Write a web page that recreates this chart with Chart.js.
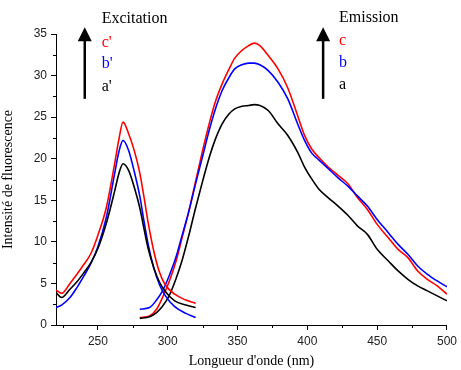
<!DOCTYPE html>
<html>
<head>
<meta charset="utf-8">
<script src="https://cdn.jsdelivr.net/npm/chart.js@4/dist/chart.umd.min.js"></script>
<style>
  html, body { margin: 0; padding: 0; background: #fff; }
  #wrap { width: 461px; height: 370px; }
</style>
</head>
<body>
<div id="wrap"><canvas id="chart" width="461" height="370"></canvas></div>
<script>
// Excitation spectra (a', b', c')
const exWave = [220, 224, 230, 235, 240, 245, 250, 256, 262, 265, 268, 272, 276, 280, 283, 286, 290, 294, 298, 305, 313, 320];
const exC = [4.2, 3.8, 5.0, 6.1, 7.3, 8.6, 10.8, 14.1, 19.4, 22.3, 24.4, 23.0, 21.0, 18.3, 15.4, 12.3, 8.9, 6.4, 4.9, 3.7, 3.0, 2.6];
const exB = [2.1, 2.4, 3.3, 4.5, 5.9, 7.4, 9.4, 12.9, 18.2, 20.8, 22.2, 21.0, 18.5, 15.5, 12.5, 9.7, 6.9, 4.9, 3.6, 2.2, 1.4, 0.9];
const exA = [3.9, 3.3, 4.3, 5.2, 6.3, 7.5, 9.2, 12.2, 16.1, 18.2, 19.4, 18.6, 16.6, 14.1, 11.6, 9.2, 6.9, 5.2, 4.1, 2.9, 2.4, 2.1];

// Emission spectra (a, b, c)
const emWave = [280, 287, 292, 296, 301, 306, 310, 315, 320, 325, 330, 334, 339, 344, 348, 353, 358, 362, 366, 372, 379, 386, 393, 398, 403, 408, 415, 422, 429, 436, 443, 450, 458, 465, 472, 479, 486, 493, 500];
const emC = [0.9, 1.1, 1.9, 3.2, 5.2, 7.7, 10.3, 13.6, 17.3, 21.0, 24.4, 26.8, 29.0, 30.8, 32.1, 33.0, 33.6, 33.9, 33.6, 32.4, 30.8, 28.5, 25.2, 22.8, 21.2, 20.2, 19.0, 18.0, 17.0, 15.3, 13.9, 12.1, 10.5, 9.1, 8.1, 6.5, 5.5, 4.7, 3.7];
const emB = [1.9, 2.1, 3.0, 4.0, 5.9, 8.2, 10.6, 13.6, 17.0, 20.3, 23.6, 25.9, 28.2, 29.8, 30.8, 31.3, 31.5, 31.5, 31.3, 30.6, 29.2, 27.2, 24.2, 22.2, 20.7, 19.9, 18.8, 17.7, 16.7, 15.5, 14.3, 12.7, 11.1, 9.7, 8.5, 7.1, 6.1, 5.3, 4.6];
const emA = [0.8, 1.0, 1.5, 2.2, 3.5, 5.6, 7.6, 10.7, 14.1, 17.3, 20.3, 22.3, 24.2, 25.4, 26.0, 26.3, 26.4, 26.5, 26.4, 25.8, 24.2, 22.8, 20.8, 19.0, 17.6, 16.4, 15.3, 14.3, 13.2, 11.9, 10.9, 9.1, 7.7, 6.5, 5.5, 4.7, 4.1, 3.5, 2.9];

const xTicks = [250, 300, 350, 400, 450, 500];
const yTicks = [0, 5, 10, 15, 20, 25, 30, 35];

const pts = (xs, ys) => xs.map((x, i) => ({ x: x, y: ys[i] }));

function line(data, color) {
    return {
        data: data,
        borderColor: color,
        borderWidth: 1.6,
        pointRadius: 0,
        fill: false,
        cubicInterpolationMode: 'monotone'
    };
}

// minor ticks + arrows / labels
const decor = {
    id: 'decor',
    afterDraw(chart) {
        const ctx = chart.ctx;
        const xs = chart.scales.x, ys = chart.scales.y;
        const area = chart.chartArea;
        ctx.save();
        ctx.strokeStyle = '#000';
        ctx.lineWidth = 1;
        for (let v = 225; v <= 500; v += 50) {
            const px = Math.round(xs.getPixelForValue(v)) + 0.5;
            ctx.beginPath();
            ctx.moveTo(px, area.bottom);
            ctx.lineTo(px, area.bottom + 3);
            ctx.stroke();
        }
        for (let v = 2.5; v < 35; v += 5) {
            const py = Math.round(ys.getPixelForValue(v)) + 0.5;
            ctx.beginPath();
            ctx.moveTo(area.left, py);
            ctx.lineTo(area.left - 3, py);
            ctx.stroke();
        }

        function arrow(xv, y0, y1) {
            const px = xs.getPixelForValue(xv);
            const pb = ys.getPixelForValue(y0);
            const pt = ys.getPixelForValue(y1);
            ctx.fillStyle = '#000';
            ctx.lineWidth = 2.5;
            ctx.beginPath();
            ctx.moveTo(px, pb);
            ctx.lineTo(px, pt + 12);
            ctx.stroke();
            ctx.beginPath();
            ctx.moveTo(px, pt);
            ctx.lineTo(px - 7, pt + 14);
            ctx.lineTo(px + 7, pt + 14);
            ctx.closePath();
            ctx.fill();
        }
        function label(txt, xv, yv, color) {
            ctx.fillStyle = color;
            ctx.font = '16px "Liberation Serif", "Times New Roman", serif';
            ctx.textBaseline = 'middle';
            ctx.textAlign = 'left';
            ctx.fillText(txt, xs.getPixelForValue(xv), ys.getPixelForValue(yv));
        }

        arrow(240.6, 27.2, 35.8);
        label('Excitation', 252.7, 36.8, '#000');
        label("c'", 252.7, 34.0, '#ff0000');
        label("b'", 252.7, 31.4, '#0000ff');
        label("a'", 252.7, 28.7, '#000');

        arrow(411.3, 27.2, 35.8);
        label('Emission', 422.7, 37.0, '#000');
        label('c', 422.7, 34.2, '#ff0000');
        label('b', 422.7, 31.5, '#0000ff');
        label('a', 422.7, 28.9, '#000');
        ctx.restore();
    }
};

new Chart(document.getElementById('chart'), {
    type: 'line',
    data: {
        datasets: [
            line(pts(exWave, exA), '#000000'),
            line(pts(exWave, exB), '#0000ff'),
            line(pts(exWave, exC), '#ff0000'),
            line(pts(emWave, emA), '#000000'),
            line(pts(emWave, emB), '#0000ff'),
            line(pts(emWave, emC), '#ff0000')
        ]
    },
    options: {
        responsive: false,
        animation: false,
        layout: { padding: { top: 34, right: 10, left: 0, bottom: 0 } },
        plugins: { legend: { display: false }, tooltip: { enabled: false } },
        scales: {
            x: {
                type: 'linear',
                min: 220,
                max: 500,
                afterBuildTicks: s => { s.ticks = xTicks.map(v => ({ value: v })); },
                afterFit: s => { s.height = 45; },
                border: { color: '#000', width: 1 },
                grid: { drawOnChartArea: false, tickLength: 5, color: '#000' },
                ticks: { color: '#222', padding: 4, font: { family: '"Liberation Sans", Arial, sans-serif', size: 12 } },
                title: {
                    display: true,
                    text: "Longueur d'onde (nm)",
                    color: '#000',
                    padding: { top: 4, bottom: 0 },
                    font: { family: '"Liberation Serif", "Times New Roman", serif', size: 14 }
                }
            },
            y: {
                min: 0,
                max: 35,
                afterBuildTicks: s => { s.ticks = yTicks.map(v => ({ value: v })); },
                afterFit: s => { s.width = 56; },
                border: { color: '#000', width: 1 },
                grid: { drawOnChartArea: false, tickLength: 5, color: '#000' },
                ticks: { color: '#222', padding: 4, font: { family: '"Liberation Sans", Arial, sans-serif', size: 12 } },
                title: {
                    display: true,
                    text: 'Intensité de fluorescence',
                    color: '#000',
                    padding: { top: 0, bottom: 6 },
                    font: { family: '"Liberation Serif", "Times New Roman", serif', size: 14 }
                }
            }
        }
    },
    plugins: [decor]
});
</script>
</body>
</html>
